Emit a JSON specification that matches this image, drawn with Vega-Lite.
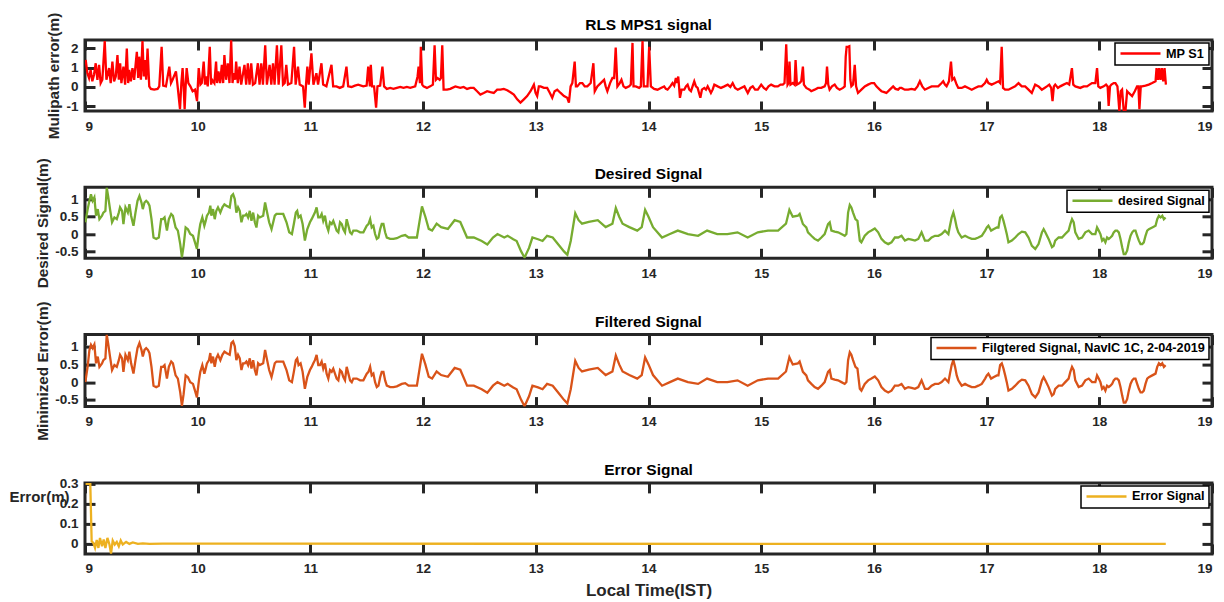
{
 "$schema": "https://vega.github.io/schema/vega-lite/v6.json",
 "background": "white",
 "padding": {"left": 7, "top": 10, "right": 0, "bottom": 0},
 "spacing": 76.3,
 "bounds": "flush",
 "config": {
  "font": "Liberation Sans",
  "view": {"stroke": "#262626", "strokeWidth": 3},
  "axis": {"grid": false, "domain": false, "offset": -10, "minExtent": 0, "labelFont": "Liberation Sans", "labelFontWeight": "bold", "labelFontSize": 13.5, "labelColor": "#262626", "titleFont": "Liberation Sans", "titleFontWeight": "bold", "titleFontSize": 15.3, "titleColor": "#262626", "tickColor": "#262626", "tickWidth": 3, "tickSize": 10},
  "axisX": {"labelPadding": 8},
  "axisY": {"labelPadding": 7, "titlePadding": 4},
  "title": {"font": "Liberation Sans", "fontSize": 15.5, "fontWeight": "bold", "color": "#000000", "anchor": "middle", "offset": 6},
  "legend": {"orient": "top-right", "offset": 3, "title": null, "symbolType": "M-4,0H4", "symbolSize": 100, "symbolOffset": 15, "labelOffset": 19, "symbolStrokeWidth": 2.5, "labelFont": "Liberation Sans", "labelFontSize": 12.7, "labelFontWeight": "bold", "labelColor": "#000000", "labelLimit": 400, "strokeColor": "#000000", "strokeWidth": 1.5, "fillColor": "#ffffff", "padding": 4}
 },
 "resolve": {"scale": {"x": "independent", "y": "independent", "color": "independent"}, "legend": {"color": "independent"}},
 "datasets": {
  "mp": [
   {"t":9.006,"v":1.39},{"t":9.021,"v":0.71},{"t":9.036,"v":0.46},{"t":9.050,"v":0.88},{"t":9.065,"v":0.29},{"t":9.080,"v":0.63},{"t":9.095,"v":1.22},{"t":9.110,"v":0.37},{"t":9.125,"v":1.14},{"t":9.139,"v":0.20},{"t":9.154,"v":0.37},{"t":9.175,"v":2.37},{"t":9.190,"v":0.37},{"t":9.214,"v":0.97},{"t":9.228,"v":0.20},{"t":9.243,"v":1.31},{"t":9.258,"v":0.29},{"t":9.273,"v":0.54},{"t":9.288,"v":1.64},{"t":9.300,"v":0.37},{"t":9.312,"v":1.22},{"t":9.323,"v":0.20},{"t":9.341,"v":1.05},{"t":9.356,"v":0.12},{"t":9.371,"v":1.98},{"t":9.383,"v":0.20},{"t":9.392,"v":0.88},{"t":9.407,"v":0.29},{"t":9.421,"v":0.97},{"t":9.436,"v":0.37},{"t":9.460,"v":1.81},{"t":9.472,"v":0.46},{"t":9.481,"v":1.56},{"t":9.496,"v":0.37},{"t":9.510,"v":2.37},{"t":9.522,"v":0.54},{"t":9.531,"v":1.39},{"t":9.543,"v":0.37},{"t":9.555,"v":1.98},{"t":9.570,"v":0.03},{"t":9.585,"v":-0.10},{"t":9.614,"v":-0.14},{"t":9.644,"v":-0.10},{"t":9.659,"v":0.03},{"t":9.680,"v":2.07},{"t":9.694,"v":0.07},{"t":9.718,"v":0.03},{"t":9.748,"v":1.05},{"t":9.763,"v":0.20},{"t":9.777,"v":0.37},{"t":9.807,"v":0.80},{"t":9.822,"v":0.03},{"t":9.843,"v":-1.15},{"t":9.855,"v":0.20},{"t":9.866,"v":0.97},{"t":9.875,"v":0.03},{"t":9.884,"v":-1.15},{"t":9.893,"v":0.03},{"t":9.902,"v":0.97},{"t":9.917,"v":0.20},{"t":9.935,"v":0.03},{"t":9.955,"v":-0.22},{"t":9.976,"v":-0.14},{"t":9.994,"v":-0.73},{"t":10.009,"v":0.97},{"t":10.024,"v":0.12},{"t":10.036,"v":0.20},{"t":10.053,"v":1.31},{"t":10.065,"v":0.12},{"t":10.077,"v":0.54},{"t":10.089,"v":0.03},{"t":10.107,"v":2.07},{"t":10.119,"v":0.12},{"t":10.128,"v":0.37},{"t":10.148,"v":0.20},{"t":10.163,"v":1.31},{"t":10.172,"v":0.20},{"t":10.184,"v":0.80},{"t":10.199,"v":0.20},{"t":10.214,"v":1.14},{"t":10.226,"v":0.20},{"t":10.237,"v":1.64},{"t":10.252,"v":0.37},{"t":10.267,"v":1.22},{"t":10.282,"v":0.20},{"t":10.297,"v":2.40},{"t":10.309,"v":0.20},{"t":10.320,"v":0.71},{"t":10.332,"v":0.37},{"t":10.341,"v":1.31},{"t":10.356,"v":0.20},{"t":10.371,"v":1.05},{"t":10.386,"v":0.12},{"t":10.415,"v":1.14},{"t":10.430,"v":0.12},{"t":10.445,"v":1.22},{"t":10.460,"v":0.12},{"t":10.475,"v":1.22},{"t":10.490,"v":0.12},{"t":10.510,"v":0.20},{"t":10.534,"v":1.22},{"t":10.549,"v":0.12},{"t":10.564,"v":1.22},{"t":10.579,"v":0.12},{"t":10.599,"v":2.15},{"t":10.614,"v":0.12},{"t":10.638,"v":1.14},{"t":10.653,"v":0.12},{"t":10.668,"v":1.22},{"t":10.682,"v":0.12},{"t":10.703,"v":2.15},{"t":10.718,"v":0.12},{"t":10.742,"v":2.15},{"t":10.757,"v":0.12},{"t":10.772,"v":0.20},{"t":10.786,"v":1.14},{"t":10.801,"v":0.12},{"t":10.831,"v":0.20},{"t":10.855,"v":2.07},{"t":10.869,"v":0.12},{"t":10.890,"v":1.05},{"t":10.905,"v":0.12},{"t":10.935,"v":0.03},{"t":10.950,"v":-1.07},{"t":10.961,"v":0.12},{"t":10.973,"v":1.05},{"t":10.985,"v":0.12},{"t":11.009,"v":1.73},{"t":11.027,"v":0.12},{"t":11.053,"v":0.71},{"t":11.068,"v":0.12},{"t":11.098,"v":1.22},{"t":11.113,"v":0.12},{"t":11.142,"v":0.03},{"t":11.187,"v":1.14},{"t":11.202,"v":0.03},{"t":11.231,"v":0.03},{"t":11.261,"v":-0.05},{"t":11.291,"v":0.03},{"t":11.320,"v":1.05},{"t":11.335,"v":0.03},{"t":11.365,"v":0.00},{"t":11.395,"v":0.07},{"t":11.424,"v":0.12},{"t":11.469,"v":0.03},{"t":11.499,"v":0.07},{"t":11.513,"v":1.05},{"t":11.528,"v":0.03},
   {"t":11.536,"v":1.14},{"t":11.547,"v":0.03},{"t":11.565,"v":0.03},{"t":11.583,"v":-1.07},{"t":11.595,"v":0.03},{"t":11.619,"v":0.07},{"t":11.639,"v":1.05},{"t":11.654,"v":0.03},{"t":11.678,"v":-0.10},{"t":11.708,"v":-0.05},{"t":11.737,"v":-0.10},{"t":11.767,"v":-0.05},{"t":11.797,"v":0.00},{"t":11.826,"v":-0.05},{"t":11.856,"v":0.00},{"t":11.886,"v":-0.05},{"t":11.930,"v":0.03},{"t":11.951,"v":0.54},{"t":11.960,"v":1.05},{"t":11.972,"v":0.20},{"t":11.980,"v":2.07},{"t":11.992,"v":0.12},{"t":12.004,"v":0.03},{"t":12.034,"v":-0.05},{"t":12.063,"v":0.03},{"t":12.087,"v":0.12},{"t":12.102,"v":2.15},{"t":12.114,"v":0.37},{"t":12.129,"v":0.46},{"t":12.147,"v":0.37},{"t":12.158,"v":0.46},{"t":12.170,"v":2.15},{"t":12.182,"v":-0.14},{"t":12.212,"v":-0.14},{"t":12.241,"v":-0.10},{"t":12.286,"v":0.03},{"t":12.330,"v":-0.05},{"t":12.360,"v":0.00},{"t":12.390,"v":-0.10},{"t":12.419,"v":-0.05},{"t":12.449,"v":-0.05},{"t":12.479,"v":-0.22},{"t":12.508,"v":-0.39},{"t":12.538,"v":-0.31},{"t":12.568,"v":-0.22},{"t":12.597,"v":-0.27},{"t":12.627,"v":-0.31},{"t":12.657,"v":-0.14},{"t":12.686,"v":-0.14},{"t":12.716,"v":-0.10},{"t":12.746,"v":-0.17},{"t":12.775,"v":-0.27},{"t":12.805,"v":-0.39},{"t":12.835,"v":-0.64},{"t":12.864,"v":-0.81},{"t":12.894,"v":-0.64},{"t":12.923,"v":-0.47},{"t":12.953,"v":-0.22},{"t":12.983,"v":0.12},{"t":12.998,"v":-0.31},{"t":13.012,"v":-0.47},{"t":13.027,"v":0.03},{"t":13.042,"v":0.03},{"t":13.072,"v":-0.05},{"t":13.101,"v":-0.05},{"t":13.125,"v":-0.31},{"t":13.146,"v":-0.56},{"t":13.167,"v":-0.22},{"t":13.190,"v":-0.14},{"t":13.220,"v":-0.31},{"t":13.250,"v":-0.47},{"t":13.279,"v":-0.56},{"t":13.294,"v":-0.81},{"t":13.309,"v":0.03},{"t":13.324,"v":0.20},{"t":13.345,"v":1.31},{"t":13.356,"v":0.03},{"t":13.368,"v":0.03},{"t":13.392,"v":0.20},{"t":13.413,"v":0.20},{"t":13.434,"v":0.03},{"t":13.457,"v":0.03},{"t":13.487,"v":0.20},{"t":13.511,"v":1.22},{"t":13.523,"v":-0.22},{"t":13.546,"v":0.03},{"t":13.576,"v":0.20},{"t":13.606,"v":0.37},{"t":13.620,"v":0.03},{"t":13.635,"v":-0.22},{"t":13.659,"v":0.20},{"t":13.680,"v":0.46},{"t":13.695,"v":0.46},{"t":13.709,"v":2.03},{"t":13.724,"v":0.03},{"t":13.745,"v":0.20},{"t":13.760,"v":0.37},{"t":13.778,"v":0.03},{"t":13.798,"v":-0.05},{"t":13.828,"v":0.03},{"t":13.843,"v":0.12},{"t":13.858,"v":2.27},{"t":13.867,"v":0.03},{"t":13.887,"v":0.03},{"t":13.917,"v":-0.05},{"t":13.932,"v":0.03},{"t":13.947,"v":2.37},{"t":13.958,"v":0.03},{"t":13.976,"v":0.03},{"t":13.991,"v":0.03},{"t":14.006,"v":2.07},{"t":14.021,"v":0.03},
   {"t":14.050,"v":-0.10},{"t":14.080,"v":-0.14},{"t":14.110,"v":-0.05},{"t":14.139,"v":0.03},{"t":14.154,"v":-0.10},{"t":14.169,"v":-0.14},{"t":14.193,"v":0.03},{"t":14.213,"v":0.20},{"t":14.228,"v":0.07},{"t":14.243,"v":0.46},{"t":14.252,"v":0.20},{"t":14.264,"v":0.54},{"t":14.279,"v":-0.56},{"t":14.293,"v":-0.14},{"t":14.317,"v":-0.14},{"t":14.332,"v":0.03},{"t":14.347,"v":0.12},{"t":14.362,"v":-0.14},{"t":14.377,"v":-0.22},{"t":14.391,"v":0.03},{"t":14.406,"v":0.29},{"t":14.421,"v":0.03},{"t":14.436,"v":-0.05},{"t":14.460,"v":-0.56},{"t":14.474,"v":-0.14},{"t":14.495,"v":-0.05},{"t":14.510,"v":-0.14},{"t":14.525,"v":0.03},{"t":14.540,"v":-0.14},{"t":14.554,"v":-0.31},{"t":14.569,"v":-0.14},{"t":14.584,"v":0.12},{"t":14.614,"v":0.03},{"t":14.643,"v":-0.05},{"t":14.673,"v":0.03},{"t":14.703,"v":0.12},{"t":14.726,"v":0.00},{"t":14.747,"v":0.20},{"t":14.768,"v":-0.05},{"t":14.792,"v":-0.14},{"t":14.821,"v":-0.05},{"t":14.851,"v":0.03},{"t":14.881,"v":-0.31},{"t":14.904,"v":-0.05},{"t":14.925,"v":0.03},{"t":14.946,"v":-0.14},{"t":14.970,"v":-0.14},{"t":15.000,"v":0.12},{"t":15.023,"v":-0.05},{"t":15.044,"v":-0.14},{"t":15.065,"v":0.03},{"t":15.088,"v":0.12},{"t":15.118,"v":0.03},{"t":15.148,"v":0.03},{"t":15.171,"v":0.12},{"t":15.192,"v":0.12},{"t":15.207,"v":0.20},{"t":15.222,"v":2.20},{"t":15.234,"v":0.12},{"t":15.242,"v":0.20},{"t":15.251,"v":1.31},{"t":15.260,"v":0.12},{"t":15.281,"v":0.20},{"t":15.296,"v":0.12},{"t":15.305,"v":1.39},{"t":15.317,"v":0.12},{"t":15.340,"v":0.20},{"t":15.355,"v":0.29},{"t":15.370,"v":1.05},{"t":15.379,"v":0.12},{"t":15.400,"v":-0.05},{"t":15.429,"v":-0.14},{"t":15.444,"v":-0.22},{"t":15.474,"v":-0.14},{"t":15.503,"v":-0.05},{"t":15.533,"v":-0.05},{"t":15.563,"v":0.03},{"t":15.575,"v":0.20},{"t":15.584,"v":1.05},{"t":15.595,"v":0.12},{"t":15.607,"v":-0.14},{"t":15.628,"v":0.03},{"t":15.652,"v":0.12},{"t":15.672,"v":-0.05},{"t":15.696,"v":-0.14},{"t":15.726,"v":-0.05},{"t":15.741,"v":0.03},{"t":15.750,"v":1.56},{"t":15.758,"v":2.07},{"t":15.770,"v":2.07},{"t":15.782,"v":2.10},{"t":15.791,"v":0.37},{"t":15.800,"v":0.03},{"t":15.815,"v":0.12},{"t":15.830,"v":1.14},{"t":15.842,"v":0.03},{"t":15.859,"v":-0.31},{"t":15.889,"v":-0.14},{"t":15.919,"v":0.03},{"t":15.948,"v":0.12},{"t":15.978,"v":0.20},{"t":16.002,"v":0.20},{"t":16.022,"v":0.03},{"t":16.052,"v":-0.14},{"t":16.067,"v":-0.22},{"t":16.091,"v":-0.27},{"t":16.111,"v":-0.31},{"t":16.141,"v":-0.14},{"t":16.171,"v":0.03},{"t":16.191,"v":-0.10},{"t":16.215,"v":-0.14},{"t":16.230,"v":-0.05},{"t":16.245,"v":-0.05},{"t":16.274,"v":-0.14},{"t":16.304,"v":-0.14},{"t":16.334,"v":-0.10},{"t":16.363,"v":-0.14},{"t":16.387,"v":0.03},{"t":16.408,"v":0.29},{"t":16.429,"v":0.03},{"t":16.452,"v":-0.14},{"t":16.482,"v":-0.05},{"t":16.512,"v":0.03},
   {"t":16.541,"v":0.03},{"t":16.571,"v":0.03},{"t":16.601,"v":0.20},{"t":16.615,"v":0.29},{"t":16.630,"v":0.12},{"t":16.645,"v":0.03},{"t":16.666,"v":0.29},{"t":16.684,"v":1.31},{"t":16.696,"v":0.37},{"t":16.713,"v":0.46},{"t":16.734,"v":0.12},{"t":16.749,"v":-0.05},{"t":16.779,"v":-0.05},{"t":16.808,"v":0.03},{"t":16.838,"v":-0.05},{"t":16.868,"v":-0.14},{"t":16.897,"v":-0.05},{"t":16.927,"v":0.03},{"t":16.956,"v":0.03},{"t":16.986,"v":0.20},{"t":17.001,"v":0.37},{"t":17.016,"v":0.20},{"t":17.045,"v":0.12},{"t":17.075,"v":0.20},{"t":17.105,"v":0.29},{"t":17.120,"v":0.20},{"t":17.134,"v":2.07},{"t":17.146,"v":-0.05},{"t":17.164,"v":-0.14},{"t":17.194,"v":-0.14},{"t":17.223,"v":-0.05},{"t":17.253,"v":0.03},{"t":17.283,"v":0.20},{"t":17.312,"v":0.03},{"t":17.342,"v":0.03},{"t":17.372,"v":-0.14},{"t":17.401,"v":-0.31},{"t":17.431,"v":0.12},{"t":17.461,"v":0.03},{"t":17.490,"v":-0.14},{"t":17.514,"v":-0.05},{"t":17.535,"v":0.03},{"t":17.556,"v":0.12},{"t":17.573,"v":-0.05},{"t":17.585,"v":-0.73},{"t":17.597,"v":0.03},{"t":17.609,"v":0.12},{"t":17.633,"v":-0.05},{"t":17.653,"v":0.03},{"t":17.683,"v":0.12},{"t":17.713,"v":0.20},{"t":17.733,"v":0.12},{"t":17.757,"v":0.97},{"t":17.769,"v":0.12},{"t":17.787,"v":0.03},{"t":17.831,"v":-0.05},{"t":17.861,"v":0.03},{"t":17.891,"v":0.03},{"t":17.914,"v":0.12},{"t":17.935,"v":0.20},{"t":17.965,"v":0.20},{"t":17.980,"v":0.97},{"t":17.991,"v":0.03},{"t":18.009,"v":-0.05},{"t":18.039,"v":0.03},{"t":18.060,"v":0.12},{"t":18.074,"v":0.03},{"t":18.083,"v":-0.98},{"t":18.095,"v":0.03},{"t":18.107,"v":0.12},{"t":18.128,"v":0.20},{"t":18.143,"v":0.20},{"t":18.161,"v":0.03},{"t":18.178,"v":-1.24},{"t":18.190,"v":-0.22},{"t":18.202,"v":-0.14},{"t":18.217,"v":-1.24},{"t":18.232,"v":-1.24},{"t":18.247,"v":-0.22},{"t":18.261,"v":-0.31},{"t":18.291,"v":-0.47},{"t":18.315,"v":-0.22},{"t":18.335,"v":0.03},{"t":18.347,"v":0.03},{"t":18.356,"v":-1.15},{"t":18.368,"v":0.03},{"t":18.380,"v":0.03},{"t":18.410,"v":0.07},{"t":18.439,"v":0.12},{"t":18.469,"v":0.20},{"t":18.499,"v":0.29},{"t":18.508,"v":0.97},{"t":18.520,"v":0.37},{"t":18.531,"v":0.97},{"t":18.543,"v":0.37},{"t":18.555,"v":0.97},{"t":18.567,"v":0.29},{"t":18.579,"v":0.97},{"t":18.591,"v":0.12}
  ],
  "sig": [
   {"t":9.003,"d":0.34,"f":0.0},{"t":9.024,"d":0.72,"f":0.45},{"t":9.039,"d":0.96,"f":0.90},{"t":9.053,"d":1.15,"f":1.05},{"t":9.068,"d":0.96,"f":0.96},{"t":9.083,"d":1.06,"f":1.06},{"t":9.098,"d":0.53,"f":0.53},{"t":9.113,"d":0.72,"f":0.72},{"t":9.128,"d":0.43,"f":0.43},{"t":9.151,"d":0.53,"f":0.53},{"t":9.163,"d":0.62,"f":0.62},{"t":9.181,"d":0.67,"f":0.67},{"t":9.193,"d":1.34,"f":1.34},{"t":9.205,"d":1.10,"f":1.10},{"t":9.222,"d":0.72,"f":0.72},{"t":9.240,"d":0.34,"f":0.34},{"t":9.261,"d":0.48,"f":0.48},{"t":9.282,"d":0.43,"f":0.43},{"t":9.300,"d":0.62,"f":0.62},{"t":9.311,"d":0.77,"f":0.77},{"t":9.329,"d":0.67,"f":0.67},{"t":9.341,"d":0.29,"f":0.29},{"t":9.359,"d":0.77,"f":0.77},{"t":9.380,"d":0.62,"f":0.62},{"t":9.394,"d":0.86,"f":0.86},{"t":9.409,"d":0.53,"f":0.53},{"t":9.430,"d":0.24,"f":0.24},{"t":9.448,"d":0.62,"f":0.62},{"t":9.466,"d":0.96,"f":0.96},{"t":9.483,"d":1.10,"f":1.10},{"t":9.501,"d":0.91,"f":0.91},{"t":9.513,"d":0.72,"f":0.72},{"t":9.528,"d":0.91,"f":0.91},{"t":9.543,"d":0.96,"f":0.96},{"t":9.558,"d":0.91,"f":0.91},{"t":9.572,"d":0.82,"f":0.82},{"t":9.590,"d":0.43,"f":0.43},{"t":9.608,"d":-0.10,"f":-0.10},{"t":9.632,"d":-0.14,"f":-0.14},{"t":9.655,"d":-0.10,"f":-0.10},{"t":9.676,"d":0.43,"f":0.43},{"t":9.691,"d":0.43,"f":0.43},{"t":9.706,"d":0.48,"f":0.48},{"t":9.727,"d":0.10,"f":0.10},{"t":9.744,"d":0.43,"f":0.43},{"t":9.765,"d":0.58,"f":0.58},{"t":9.780,"d":0.53,"f":0.53},{"t":9.804,"d":0.19,"f":0.19},{"t":9.824,"d":0.10,"f":0.10},{"t":9.845,"d":-0.29,"f":-0.29},{"t":9.860,"d":-0.67,"f":-0.67},{"t":9.875,"d":-0.34,"f":-0.34},{"t":9.893,"d":0.19,"f":0.19},{"t":9.913,"d":0.14,"f":0.14},{"t":9.934,"d":0.00,"f":0.00},{"t":9.958,"d":-0.05,"f":-0.05},{"t":9.976,"d":-0.24,"f":-0.24},{"t":9.993,"d":-0.43,"f":-0.43},{"t":10.011,"d":0.05,"f":0.05},{"t":10.023,"d":0.29,"f":0.29},{"t":10.041,"d":0.48,"f":0.48},{"t":10.059,"d":0.24,"f":0.24},{"t":10.071,"d":0.38,"f":0.38},{"t":10.082,"d":0.53,"f":0.53},{"t":10.100,"d":0.62,"f":0.62},{"t":10.112,"d":0.82,"f":0.82},{"t":10.121,"d":0.53,"f":0.53},{"t":10.136,"d":0.72,"f":0.72},{"t":10.151,"d":0.43,"f":0.43},{"t":10.165,"d":0.67,"f":0.67},{"t":10.180,"d":0.77,"f":0.77},{"t":10.201,"d":0.62,"f":0.62},{"t":10.219,"d":0.77,"f":0.77},{"t":10.237,"d":0.86,"f":0.86},{"t":10.254,"d":0.82,"f":0.82},{"t":10.284,"d":0.77,"f":0.77},{"t":10.299,"d":1.10,"f":1.10},{"t":10.314,"d":1.15,"f":1.15},{"t":10.329,"d":1.01,"f":1.01},{"t":10.343,"d":0.62,"f":0.62},{"t":10.358,"d":0.77,"f":0.77},{"t":10.373,"d":0.67,"f":0.67},{"t":10.388,"d":0.34,"f":0.34},{"t":10.403,"d":0.53,"f":0.53},{"t":10.418,"d":0.53,"f":0.53},{"t":10.432,"d":0.58,"f":0.58},{"t":10.447,"d":0.48,"f":0.48},{"t":10.462,"d":0.67,"f":0.67},{"t":10.477,"d":0.38,"f":0.38},{"t":10.492,"d":0.62,"f":0.62},{"t":10.507,"d":0.34,"f":0.34},{"t":10.521,"d":0.19,"f":0.19},{"t":10.536,"d":0.53,"f":0.53},{"t":10.551,"d":0.48,"f":0.48},{"t":10.581,"d":0.53,"f":0.53},{"t":10.598,"d":0.91,"f":0.91},{"t":10.616,"d":0.62,"f":0.62},{"t":10.634,"d":0.34,"f":0.34},{"t":10.655,"d":0.14,"f":0.14},{"t":10.670,"d":0.34,"f":0.34},{"t":10.684,"d":0.53,"f":0.53},{"t":10.699,"d":0.58,"f":0.58},{"t":10.729,"d":0.58,"f":0.58},{"t":10.759,"d":0.58,"f":0.58},{"t":10.788,"d":0.34,"f":0.34},{"t":10.812,"d":0.05,"f":0.05},{"t":10.836,"d":0.00,"f":0.00},{"t":10.853,"d":0.29,"f":0.29},{"t":10.871,"d":0.62,"f":0.62},{"t":10.883,"d":0.67,"f":0.67},{"t":10.895,"d":0.48,"f":0.48},{"t":10.913,"d":0.53,"f":0.53},{"t":10.931,"d":0.29,"f":0.29},{"t":10.951,"d":-0.19,"f":-0.19},{"t":10.972,"d":0.14,"f":0.14},{"t":10.996,"d":0.34,"f":0.34},{"t":11.011,"d":0.43,"f":0.43},{"t":11.026,"d":0.53,"f":0.53},{"t":11.040,"d":0.62,"f":0.62},{"t":11.055,"d":0.77,"f":0.77},{"t":11.070,"d":0.48,"f":0.48},{"t":11.085,"d":0.48,"f":0.48},{"t":11.100,"d":0.58,"f":0.58},{"t":11.114,"d":0.38,"f":0.38},{"t":11.129,"d":0.53,"f":0.53},{"t":11.144,"d":0.24,"f":0.24},{"t":11.159,"d":0.10,"f":0.10},{"t":11.174,"d":0.34,"f":0.34},{"t":11.189,"d":0.29,"f":0.29},{"t":11.203,"d":0.38,"f":0.38},{"t":11.218,"d":0.24,"f":0.24},{"t":11.233,"d":0.10,"f":0.10},{"t":11.248,"d":0.05,"f":0.05},{"t":11.263,"d":0.34,"f":0.34},{"t":11.278,"d":0.29,"f":0.29},{"t":11.292,"d":0.14,"f":0.14},{"t":11.307,"d":0.05,"f":0.05},{"t":11.322,"d":0.43,"f":0.43},{"t":11.337,"d":0.24,"f":0.24},{"t":11.352,"d":0.05,"f":0.05},{"t":11.367,"d":0.00,"f":0.00},{"t":11.381,"d":0.10,"f":0.10},{"t":11.411,"d":0.10,"f":0.10},{"t":11.441,"d":0.05,"f":0.05},{"t":11.470,"d":0.05,"f":0.05},{"t":11.500,"d":0.24,"f":0.24},{"t":11.515,"d":0.29,"f":0.29},{"t":11.530,"d":0.43,"f":0.43},{"t":11.544,"d":0.19,"f":0.19},{"t":11.559,"d":0.24,"f":0.24},{"t":11.574,"d":0.00,"f":0.00},{"t":11.589,"d":-0.14,"f":-0.14},{"t":11.604,"d":-0.10,"f":-0.10},{"t":11.619,"d":0.14,"f":0.14},{"t":11.633,"d":0.29,"f":0.29},{"t":11.648,"d":0.29,"f":0.29},{"t":11.663,"d":0.05,"f":0.05},{"t":11.678,"d":-0.10,"f":-0.10},{"t":11.708,"d":-0.14,"f":-0.14},{"t":11.737,"d":-0.14,"f":-0.14},{"t":11.767,"d":-0.12,"f":-0.12},{"t":11.811,"d":-0.05,"f":-0.05},{"t":11.841,"d":-0.03,"f":-0.03},{"t":11.871,"d":-0.10,"f":-0.10},{"t":11.900,"d":-0.10,"f":-0.10},{"t":11.945,"d":-0.10,"f":-0.10},
   {"t":11.99,"d":0.80,"f":0.80},{"t":12.02,"d":0.50,"f":0.50},{"t":12.05,"d":0.15,"f":0.15},{"t":12.08,"d":0.10,"f":0.10},{"t":12.12,"d":0.30,"f":0.30},{"t":12.16,"d":0.20,"f":0.20},{"t":12.22,"d":0.15,"f":0.15},{"t":12.28,"d":0.40,"f":0.40},{"t":12.33,"d":0.35,"f":0.35},{"t":12.39,"d":-0.10,"f":-0.10},{"t":12.45,"d":-0.10,"f":-0.10},{"t":12.52,"d":-0.20,"f":-0.20},{"t":12.57,"d":-0.30,"f":-0.30},{"t":12.62,"d":-0.10,"f":-0.10},{"t":12.66,"d":0.00,"f":0.00},{"t":12.72,"d":-0.10,"f":-0.10},{"t":12.75,"d":-0.05,"f":-0.05},{"t":12.80,"d":-0.15,"f":-0.15},{"t":12.83,"d":-0.20,"f":-0.20},{"t":12.87,"d":-0.50,"f":-0.50},{"t":12.90,"d":-0.68,"f":-0.68},{"t":12.94,"d":-0.40,"f":-0.40},{"t":12.97,"d":-0.10,"f":-0.10},{"t":13.02,"d":-0.15,"f":-0.15},{"t":13.06,"d":-0.20,"f":-0.20},{"t":13.10,"d":-0.05,"f":-0.05},{"t":13.15,"d":-0.10,"f":-0.10},{"t":13.20,"d":-0.30,"f":-0.30},{"t":13.25,"d":-0.50,"f":-0.50},{"t":13.28,"d":-0.60,"f":-0.60},{"t":13.31,"d":-0.20,"f":-0.20},{"t":13.35,"d":0.60,"f":0.60},{"t":13.38,"d":0.40,"f":0.40},{"t":13.41,"d":0.30,"f":0.30},{"t":13.47,"d":0.35,"f":0.35},{"t":13.55,"d":0.40,"f":0.40},{"t":13.62,"d":0.20,"f":0.20},{"t":13.68,"d":0.30,"f":0.30},{"t":13.71,"d":0.75,"f":0.75},{"t":13.74,"d":0.50,"f":0.50},{"t":13.77,"d":0.30,"f":0.30},{"t":13.83,"d":0.20,"f":0.20},{"t":13.90,"d":0.10,"f":0.10},{"t":13.94,"d":0.20,"f":0.20},{"t":13.97,"d":0.70,"f":0.70},{"t":14.00,"d":0.50,"f":0.50},{"t":14.04,"d":0.20,"f":0.20},{"t":14.12,"d":-0.10,"f":-0.10},{"t":14.19,"d":0.00,"f":0.00},{"t":14.26,"d":0.10,"f":0.10},{"t":14.35,"d":0.00,"f":0.00},{"t":14.44,"d":-0.05,"f":-0.05},{"t":14.52,"d":0.10,"f":0.10},{"t":14.61,"d":0.00,"f":0.00},{"t":14.70,"d":0.00,"f":0.00},{"t":14.79,"d":0.05,"f":0.05},{"t":14.88,"d":-0.10,"f":-0.10},{"t":14.97,"d":0.05,"f":0.05},{"t":15.06,"d":0.10,"f":0.10},{"t":15.15,"d":0.10,"f":0.10},{"t":15.22,"d":0.30,"f":0.30},{"t":15.25,"d":0.70,"f":0.70},{"t":15.28,"d":0.50,"f":0.50},
   {"t":15.326,"d":0.53,"f":0.53},{"t":15.341,"d":0.58,"f":0.58},{"t":15.356,"d":0.43,"f":0.43},{"t":15.370,"d":0.29,"f":0.29},{"t":15.385,"d":0.24,"f":0.24},{"t":15.400,"d":0.19,"f":0.19},{"t":15.415,"d":0.05,"f":0.05},{"t":15.445,"d":-0.05,"f":-0.05},{"t":15.474,"d":-0.14,"f":-0.14},{"t":15.504,"d":-0.19,"f":-0.19},{"t":15.534,"d":-0.10,"f":-0.10},{"t":15.563,"d":0.00,"f":0.00},{"t":15.593,"d":0.29,"f":0.29},{"t":15.608,"d":0.34,"f":0.34},{"t":15.623,"d":0.10,"f":0.10},{"t":15.652,"d":0.07,"f":0.07},{"t":15.682,"d":0.05,"f":0.05},{"t":15.712,"d":0.00,"f":0.00},{"t":15.741,"d":-0.05,"f":-0.05},{"t":15.756,"d":0.00,"f":0.00},{"t":15.771,"d":0.62,"f":0.62},{"t":15.786,"d":0.84,"f":0.84},{"t":15.800,"d":0.77,"f":0.77},{"t":15.815,"d":0.62,"f":0.62},{"t":15.836,"d":0.43,"f":0.43},{"t":15.854,"d":0.38,"f":0.38},{"t":15.875,"d":-0.19,"f":-0.19},{"t":15.889,"d":-0.24,"f":-0.24},{"t":15.919,"d":-0.05,"f":-0.05},{"t":15.949,"d":0.05,"f":0.05},{"t":15.978,"d":0.10,"f":0.10},{"t":16.008,"d":0.16,"f":0.16},{"t":16.038,"d":0.05,"f":0.05},{"t":16.067,"d":-0.14,"f":-0.14},{"t":16.097,"d":-0.24,"f":-0.24},{"t":16.127,"d":-0.29,"f":-0.29},{"t":16.156,"d":-0.24,"f":-0.24},{"t":16.186,"d":-0.10,"f":-0.10},{"t":16.216,"d":-0.10,"f":-0.10},{"t":16.245,"d":-0.05,"f":-0.05},{"t":16.275,"d":-0.19,"f":-0.19},{"t":16.305,"d":-0.14,"f":-0.14},{"t":16.334,"d":-0.16,"f":-0.16},{"t":16.364,"d":-0.19,"f":-0.19},{"t":16.394,"d":-0.14,"f":-0.14},{"t":16.423,"d":0.05,"f":0.05},{"t":16.453,"d":-0.19,"f":-0.19},{"t":16.483,"d":-0.19,"f":-0.19},{"t":16.512,"d":-0.10,"f":-0.10},{"t":16.542,"d":-0.05,"f":-0.05},{"t":16.572,"d":-0.05,"f":-0.05},{"t":16.601,"d":0.00,"f":0.00},{"t":16.631,"d":0.10,"f":0.10},{"t":16.661,"d":0.00,"f":0.00},{"t":16.675,"d":0.24,"f":0.24},{"t":16.690,"d":0.48,"f":0.48},{"t":16.705,"d":0.62,"f":0.62},{"t":16.720,"d":0.43,"f":0.43},{"t":16.735,"d":0.19,"f":0.19},{"t":16.749,"d":0.05,"f":0.05},{"t":16.779,"d":-0.10,"f":-0.10},{"t":16.809,"d":-0.05,"f":-0.05},{"t":16.838,"d":-0.10,"f":-0.10},{"t":16.868,"d":-0.14,"f":-0.14},{"t":16.898,"d":-0.14,"f":-0.14},{"t":16.927,"d":-0.10,"f":-0.10},{"t":16.957,"d":-0.05,"f":-0.05},{"t":16.987,"d":0.10,"f":0.10},{"t":17.002,"d":0.19,"f":0.19},{"t":17.016,"d":0.24,"f":0.24},{"t":17.040,"d":0.10,"f":0.10},{"t":17.061,"d":0.14,"f":0.14},{"t":17.091,"d":0.19,"f":0.19},{"t":17.105,"d":0.19,"f":0.19},{"t":17.120,"d":0.48,"f":0.48},{"t":17.135,"d":0.53,"f":0.53},{"t":17.150,"d":0.38,"f":0.38},{"t":17.165,"d":0.19,"f":0.19},{"t":17.179,"d":0.00,"f":0.00},{"t":17.194,"d":-0.24,"f":-0.24},{"t":17.224,"d":-0.19,"f":-0.19},{"t":17.254,"d":-0.10,"f":-0.10},{"t":17.283,"d":0.00,"f":0.00},{"t":17.313,"d":0.07,"f":0.07},{"t":17.343,"d":0.05,"f":0.05},{"t":17.372,"d":-0.10,"f":-0.10},{"t":17.402,"d":-0.34,"f":-0.34},{"t":17.432,"d":-0.43,"f":-0.43},{"t":17.461,"d":-0.29,"f":-0.29},{"t":17.491,"d":0.05,"f":0.05},{"t":17.506,"d":0.14,"f":0.14},{"t":17.521,"d":0.05,"f":0.05},{"t":17.550,"d":-0.14,"f":-0.14},{"t":17.580,"d":-0.38,"f":-0.38},{"t":17.595,"d":-0.34,"f":-0.34},{"t":17.609,"d":-0.19,"f":-0.19},{"t":17.639,"d":-0.10,"f":-0.10},{"t":17.669,"d":-0.10,"f":-0.10},{"t":17.698,"d":0.00,"f":0.00},{"t":17.728,"d":0.10,"f":0.10},{"t":17.743,"d":0.29,"f":0.29},{"t":17.758,"d":0.43,"f":0.43},{"t":17.773,"d":0.34,"f":0.34},{"t":17.787,"d":0.05,"f":0.05},{"t":17.817,"d":-0.14,"f":-0.14},{"t":17.847,"d":-0.10,"f":-0.10},{"t":17.876,"d":0.05,"f":0.05},{"t":17.906,"d":0.10,"f":0.10},{"t":17.936,"d":0.00,"f":0.00},{"t":17.965,"d":0.00,"f":0.00},{"t":17.980,"d":0.19,"f":0.19},{"t":17.995,"d":0.10,"f":0.10},{"t":18.010,"d":0.00,"f":0.00},{"t":18.025,"d":-0.19,"f":-0.19},{"t":18.039,"d":-0.14,"f":-0.14},{"t":18.054,"d":-0.24,"f":-0.24},{"t":18.069,"d":-0.10,"f":-0.10},{"t":18.084,"d":-0.14,"f":-0.14},{"t":18.099,"d":-0.10,"f":-0.10},{"t":18.114,"d":-0.05,"f":-0.05},{"t":18.128,"d":0.05,"f":0.05},{"t":18.143,"d":0.10,"f":0.10},{"t":18.158,"d":0.10,"f":0.10},{"t":18.173,"d":0.05,"f":0.05},{"t":18.188,"d":-0.14,"f":-0.14},{"t":18.203,"d":-0.38,"f":-0.38},{"t":18.217,"d":-0.58,"f":-0.58},{"t":18.232,"d":-0.58,"f":-0.58},{"t":18.247,"d":-0.48,"f":-0.48},{"t":18.262,"d":-0.24,"f":-0.24},{"t":18.277,"d":-0.05,"f":-0.05},{"t":18.292,"d":0.05,"f":0.05},{"t":18.306,"d":0.10,"f":0.10},{"t":18.321,"d":0.10,"f":0.10},{"t":18.336,"d":-0.05,"f":-0.05},{"t":18.351,"d":-0.19,"f":-0.19},{"t":18.366,"d":-0.29,"f":-0.29},{"t":18.381,"d":-0.29,"f":-0.29},{"t":18.395,"d":-0.24,"f":-0.24},{"t":18.410,"d":-0.05,"f":-0.05},{"t":18.425,"d":0.10,"f":0.10},{"t":18.440,"d":0.14,"f":0.14},{"t":18.470,"d":0.19,"f":0.19},{"t":18.499,"d":0.24,"f":0.24},{"t":18.514,"d":0.43,"f":0.43},{"t":18.529,"d":0.53,"f":0.53},{"t":18.544,"d":0.48,"f":0.48},{"t":18.559,"d":0.53,"f":0.53},{"t":18.573,"d":0.43,"f":0.43},{"t":18.588,"d":0.48,"f":0.48}
  ],
  "err": [
   {"t":9.005,"e":0.30},{"t":9.047,"e":0.30},{"t":9.059,"e":0.013},{"t":9.074,"e":0.005},{"t":9.089,"e":-0.02},{"t":9.104,"e":0.02},{"t":9.119,"e":-0.02},{"t":9.133,"e":0.03},{"t":9.151,"e":-0.012},{"t":9.166,"e":0.022},{"t":9.181,"e":-0.02},{"t":9.199,"e":0.03},{"t":9.217,"e":-0.003},{"t":9.231,"e":-0.048},{"t":9.246,"e":0.017},{"t":9.264,"e":-0.003},{"t":9.282,"e":0.01},{"t":9.300,"e":-0.012},{"t":9.317,"e":0.017},{"t":9.335,"e":-0.003},{"t":9.365,"e":0.01},{"t":9.394,"e":0.0},{"t":9.424,"e":0.007},{"t":9.469,"e":0.0},{"t":9.513,"e":0.003},{"t":9.572,"e":0.0},{"t":9.69,"e":0.001},{"t":9.87,"e":0.001},{"t":18.59,"e":0.0}
  ]
 },
 "vconcat": [
  {
   "width": 1127, "height": 71,
   "title": {"text": "RLS MPS1 signal", "offset": -21},
   "data": {"name": "mp"},
   "layer": [
    {"mark": {"type": "line", "strokeWidth": 2.3, "clip": true},
     "encoding": {
      "x": {"field": "t", "type": "quantitative", "scale": {"domain": [9, 19], "nice": false, "zero": false}, "axis": {"orient": "bottom", "values": [9,10,11,12,13,14,15,16,17,18,19], "labelExpr": "'' + datum.value", "title": null}},
      "y": {"field": "v", "type": "quantitative", "scale": {"domain": [-1.24, 2.42], "nice": false, "zero": false}, "axis": {"orient": "left", "values": [-1,0,1,2], "labelExpr": "'' + datum.value", "title": "Mulipath error(m)"}},
      "color": {"datum": "MP S1", "scale": {"range": ["#FF0000"]}, "legend": {}}
     }},
    {"mark": {"type": "line", "opacity": 0},
     "encoding": {
      "x": {"field": "t", "type": "quantitative", "axis": {"orient": "top", "values": [9,10,11,12,13,14,15,16,17,18,19], "labels": false, "title": null}},
      "y": {"field": "v", "type": "quantitative", "axis": {"orient": "right", "values": [-1,0,1,2], "labels": false, "title": null}}
     }}
   ]
  },
  {
   "width": 1127, "height": 71,
   "title": {"text": "Desired Signal", "offset": -25},
   "data": {"name": "sig"},
   "layer": [
    {"mark": {"type": "line", "strokeWidth": 2.3, "clip": true},
     "encoding": {
      "x": {"field": "t", "type": "quantitative", "scale": {"domain": [9, 19], "nice": false, "zero": false}, "axis": {"orient": "bottom", "values": [9,10,11,12,13,14,15,16,17,18,19], "labelExpr": "'' + datum.value", "title": null}},
      "y": {"field": "d", "type": "quantitative", "scale": {"domain": [-0.70, 1.35], "nice": false, "zero": false}, "axis": {"orient": "left", "values": [-0.5,0,0.5,1], "labelExpr": "'' + datum.value", "title": "Desired Signal(m)"}},
      "color": {"datum": "desired Signal", "scale": {"range": ["#77AC30"]}, "legend": {}}
     }},
    {"mark": {"type": "line", "opacity": 0},
     "encoding": {
      "x": {"field": "t", "type": "quantitative", "axis": {"orient": "top", "values": [9,10,11,12,13,14,15,16,17,18,19], "labels": false, "title": null}},
      "y": {"field": "d", "type": "quantitative", "axis": {"orient": "right", "values": [-0.5,0,0.5,1], "labels": false, "title": null}}
     }}
   ]
  },
  {
   "width": 1127, "height": 72,
   "title": {"text": "Filtered Signal", "offset": -29.5},
   "data": {"name": "sig"},
   "layer": [
    {"mark": {"type": "line", "strokeWidth": 2.3, "clip": true},
     "encoding": {
      "x": {"field": "t", "type": "quantitative", "scale": {"domain": [9, 19], "nice": false, "zero": false}, "axis": {"orient": "bottom", "values": [9,10,11,12,13,14,15,16,17,18,19], "labelExpr": "'' + datum.value", "title": null}},
      "y": {"field": "f", "type": "quantitative", "scale": {"domain": [-0.69, 1.34], "nice": false, "zero": false}, "axis": {"orient": "left", "values": [-0.5,0,0.5,1], "labelExpr": "'' + datum.value", "title": "Minimized Error(m)"}},
      "color": {"datum": "Filgtered Signal, NavIC 1C, 2-04-2019", "scale": {"range": ["#D95319"]}, "legend": {}}
     }},
    {"mark": {"type": "line", "opacity": 0},
     "encoding": {
      "x": {"field": "t", "type": "quantitative", "axis": {"orient": "top", "values": [9,10,11,12,13,14,15,16,17,18,19], "labels": false, "title": null}},
      "y": {"field": "f", "type": "quantitative", "axis": {"orient": "right", "values": [-0.5,0,0.5,1], "labels": false, "title": null}}
     }}
   ]
  },
  {
   "width": 1127, "height": 71,
   "title": {"text": "Error Signal", "offset": -2},
   "data": {"name": "err"},
   "layer": [
    {"mark": {"type": "line", "strokeWidth": 2.3, "clip": true},
     "encoding": {
      "x": {"field": "t", "type": "quantitative", "scale": {"domain": [9, 19], "nice": false, "zero": false}, "axis": {"orient": "bottom", "values": [9,10,11,12,13,14,15,16,17,18,19], "labelExpr": "'' + datum.value", "title": "Local Time(IST)", "titlePadding": 7, "titleFontSize": 17}},
      "y": {"field": "e", "type": "quantitative", "scale": {"domain": [-0.05, 0.305], "nice": false, "zero": false}, "axis": {"orient": "left", "values": [0,0.1,0.2,0.3], "labelExpr": "'' + datum.value", "title": "Error(m)", "titleFontSize": 15, "titleAngle": 0, "titleAlign": "left", "titleBaseline": "middle", "titleX": -86, "titleY": 14}},
      "color": {"datum": "Error Signal", "scale": {"range": ["#EDB120"]}, "legend": {}}
     }},
    {"mark": {"type": "line", "opacity": 0},
     "encoding": {
      "x": {"field": "t", "type": "quantitative", "axis": {"orient": "top", "values": [9,10,11,12,13,14,15,16,17,18,19], "labels": false, "title": null}},
      "y": {"field": "e", "type": "quantitative", "axis": {"orient": "right", "values": [0,0.1,0.2,0.3], "labels": false, "title": null}}
     }}
   ]
  }
 ]
}
